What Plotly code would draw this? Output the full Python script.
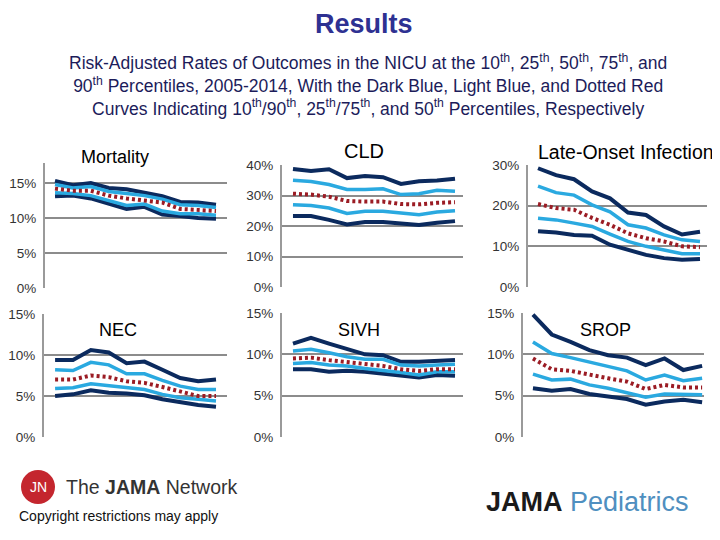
import plotly.graph_objects as go

years = [2005, 2006, 2007, 2008, 2009, 2010, 2011, 2012, 2013, 2014]

# Mortality (%)
mort_p90 = [15.3, 14.7, 15.0, 14.3, 14.1, 13.6, 13.1, 12.3, 12.2, 11.9]
mort_p75 = [14.8, 14.3, 14.5, 13.8, 13.5, 13.2, 12.7, 11.9, 11.8, 11.5]
mort_p50 = [14.2, 13.9, 13.9, 13.2, 12.8, 12.5, 12.2, 11.3, 11.1, 11.0]
mort_p25 = [13.6, 13.5, 13.2, 12.5, 11.8, 12.0, 11.0, 10.6, 10.6, 10.4]
mort_p10 = [13.1, 13.2, 12.8, 12.0, 11.3, 11.6, 10.5, 10.3, 10.0, 9.9]

# CLD (%)
cld_p90 = [38.7, 38.0, 38.6, 35.7, 36.4, 36.0, 33.8, 34.7, 34.9, 35.5]
cld_p75 = [35.0, 34.6, 33.6, 32.0, 32.0, 32.2, 30.3, 30.6, 31.7, 31.4]
cld_p50 = [30.6, 30.3, 29.6, 28.2, 28.0, 28.0, 27.2, 27.1, 27.6, 27.8]
cld_p25 = [27.0, 26.7, 25.9, 24.1, 24.8, 24.8, 24.3, 23.7, 24.6, 25.0]
cld_p10 = [23.3, 23.3, 22.0, 20.5, 21.3, 21.3, 20.8, 20.3, 21.1, 21.6]

# Late-Onset Infection (%)
loi_p90 = [29.2, 27.5, 26.5, 23.5, 21.8, 18.3, 17.7, 14.9, 12.9, 13.6]
loi_p75 = [24.8, 23.2, 22.6, 20.2, 18.5, 15.3, 14.5, 12.8, 11.6, 11.2]
loi_p50 = [20.4, 19.4, 19.0, 17.0, 15.3, 13.2, 12.0, 11.2, 10.0, 9.8]
loi_p25 = [16.9, 16.5, 15.7, 14.9, 13.0, 11.2, 10.0, 9.2, 8.2, 8.2]
loi_p10 = [13.7, 13.4, 12.8, 12.6, 10.4, 9.2, 7.9, 7.1, 6.7, 6.9]

# NEC (%)
nec_p90 = [9.4, 9.4, 10.6, 10.3, 9.0, 9.2, 8.2, 7.2, 6.8, 7.0]
nec_p75 = [8.2, 8.1, 9.1, 8.8, 7.7, 7.7, 6.9, 6.2, 5.8, 5.8]
nec_p50 = [7.0, 7.0, 7.5, 7.3, 6.8, 6.6, 6.1, 5.5, 5.0, 5.0]
nec_p25 = [5.9, 6.0, 6.5, 6.3, 6.0, 5.8, 5.2, 4.8, 4.6, 4.4]
nec_p10 = [5.0, 5.2, 5.7, 5.4, 5.3, 5.1, 4.6, 4.2, 3.9, 3.7]

# SIVH (%)
sivh_p90 = [11.3, 12.0, 11.3, 10.7, 10.0, 9.9, 9.1, 9.1, 9.2, 9.3]
sivh_p75 = [10.4, 10.6, 10.2, 9.7, 9.4, 9.4, 8.7, 8.6, 8.7, 8.8]
sivh_p50 = [9.5, 9.6, 9.3, 9.1, 8.8, 8.6, 8.2, 8.0, 8.2, 8.2]
sivh_p25 = [8.9, 9.0, 8.7, 8.6, 8.3, 8.1, 7.8, 7.5, 7.9, 7.9]
sivh_p10 = [8.2, 8.2, 7.9, 8.0, 7.9, 7.7, 7.4, 7.2, 7.5, 7.4]

# SROP (%)
srop_p90 = [14.8, 12.4, 11.5, 10.5, 9.9, 9.6, 8.7, 9.5, 8.1, 8.6]
srop_p75 = [11.5, 10.1, 9.6, 9.1, 8.5, 8.0, 6.9, 7.5, 6.8, 7.1]
srop_p50 = [9.5, 8.2, 8.0, 7.5, 7.1, 6.7, 5.8, 6.3, 6.0, 6.0]
srop_p25 = [7.6, 6.9, 7.0, 6.3, 5.9, 5.4, 4.8, 5.2, 5.1, 5.1]
srop_p10 = [5.9, 5.6, 5.8, 5.2, 4.9, 4.6, 3.9, 4.3, 4.5, 4.2]

panel_titles = ["Mortality", "CLD", "Late-Onset Infection", "NEC", "SIVH", "SROP"]
y_ticks = [[0, 5, 10, 15], [0, 10, 20, 30, 40], [0, 10, 20, 30],
           [0, 5, 10, 15], [0, 5, 10, 15], [0, 5, 10, 15]]
y_tick_text = [[f"{v}%" for v in t] for t in y_ticks]

panels = [
    (mort_p10, mort_p25, mort_p50, mort_p75, mort_p90),
    (cld_p10, cld_p25, cld_p50, cld_p75, cld_p90),
    (loi_p10, loi_p25, loi_p50, loi_p75, loi_p90),
    (nec_p10, nec_p25, nec_p50, nec_p75, nec_p90),
    (sivh_p10, sivh_p25, sivh_p50, sivh_p75, sivh_p90),
    (srop_p10, srop_p25, srop_p50, srop_p75, srop_p90),
]

W, H = 720, 540
OFF = 8  # page body margin offset
DARK = "#0b2a5e"
LIGHT = "#2aa9e0"
RED = "#9b1c24"
GRID = "#8c8c8c"
FONT = "Liberation Sans, Arial, sans-serif"

def px(x):
    return (x - OFF) / W

def py(y):
    return 1 - (y - OFF) / H

# layout geometry in pixels: (x_left, x_right, y_top, y_bottom, xrange, yrange)
geom = [
    (45, 227, 163, 288, [2004.44, 2014.615], [0, 17.86]),
    (282, 463, 165, 287, [2004.39, 2014.444], [0, 40]),
    (528, 707, 165, 287, [2004.444, 2014.389], [0, 30]),
    (44, 227, 314, 437, [2004.38, 2014.615], [0, 15]),
    (282, 463, 313, 437, [2004.39, 2014.444], [0, 15]),
    (523, 704, 313, 437, [2004.47, 2014.1], [0, 15]),
]

fig = go.Figure()
layout_axes = {}
for i, (vals, g) in enumerate(zip(panels, geom)):
    n = "" if i == 0 else str(i + 1)
    xa, ya = "x" + n, "y" + n
    p10, p25, p50, p75, p90 = vals
    for series, color, width, dash in [
        (p90, DARK, 4, "solid"), (p10, DARK, 4, "solid"),
        (p75, LIGHT, 3.5, "solid"), (p25, LIGHT, 3.5, "solid"),
        (p50, RED, 4, "3px,3px"),
    ]:
        fig.add_trace(go.Scatter(x=years, y=series, mode="lines", xaxis=xa, yaxis=ya,
                                 line=dict(color=color, width=width, dash=dash),
                                 showlegend=False, hoverinfo="skip"))
    x0, x1, y0, y1, xr, yr = g
    layout_axes["xaxis" + n] = dict(domain=[px(x0), px(x1)], range=xr, showgrid=False,
                                    zeroline=False, showline=False, showticklabels=False,
                                    anchor=ya, fixedrange=True, automargin=False)
    layout_axes["yaxis" + n] = dict(domain=[py(y1), py(y0)], range=yr, showgrid=True,
                                    gridcolor=GRID, gridwidth=2, zeroline=False,
                                    showline=True, linecolor="#9a9a9a", linewidth=2,
                                    tickvals=y_ticks[i], ticktext=y_tick_text[i],
                                    ticks="", ticklabelstandoff=4,
                                    tickfont=dict(family=FONT, size=13.5, color="#333333"),
                                    anchor=xa, fixedrange=True, automargin=False)

annotations = []
def text(x, y, s, size, color="#000000", bold=False, xanchor="center"):
    if bold:
        s = "<b>" + s + "</b>"
    if xanchor == "left":
        x -= 3
    annotations.append(dict(x=px(x), y=py(y), xref="paper", yref="paper", text=s,
                            showarrow=False, xanchor=xanchor, yanchor="middle",
                            align="center",
                            font=dict(family=FONT, size=size, color=color)))

text(364, 24, "Results", 27, "#2e3192", bold=True)
SUB = "#1c1c5a"
subtitle = ("Risk-Adjusted Rates of Outcomes in the NICU at the 10<sup>th</sup>, 25<sup>th</sup>, 50<sup>th</sup>, 75<sup>th</sup>, and<br>"
            "90<sup>th</sup> Percentiles, 2005-2014, With the Dark Blue, Light Blue, and Dotted Red<br>"
            "Curves Indicating 10<sup>th</sup>/90<sup>th</sup>, 25<sup>th</sup>/75<sup>th</sup>, and 50<sup>th</sup> Percentiles, Respectively")
text(368, 85, subtitle, 17.5, SUB)

title_pos = [(115, 157), (364, 151), (626, 152), (118, 330), (359, 330), (605, 330)]
title_size = [18, 20, 19.5, 18, 18, 18]
for t, (x, y), s in zip(panel_titles, title_pos, title_size):
    text(x, y, t, s)

# footer
text(67, 487, "The <b>JAMA</b> Network", 19.5, "#333333", xanchor="left")
text(38, 487, "JN", 14, "#ffffff")
text(20, 516, "Copyright restrictions may apply", 14, "#111111", xanchor="left")
text(487, 502, "<b>JAMA</b> <span style='color:#4f8fc0'>Pediatrics</span>", 27, "#1a1a1a", xanchor="left")

shapes = [dict(type="circle", xref="paper", yref="paper", x0=px(21), x1=px(55),
               y0=py(504), y1=py(470), fillcolor="#c4262e", line=dict(width=0), layer="below")]

fig.update_layout(width=W, height=H,
                  margin=dict(l=0, r=0, t=0, b=0, pad=0, autoexpand=False),
                  paper_bgcolor="white", plot_bgcolor="white", showlegend=False,
                  title=dict(text=""),
                  annotations=annotations, shapes=shapes, **layout_axes)
fig.write_html("out.html")
